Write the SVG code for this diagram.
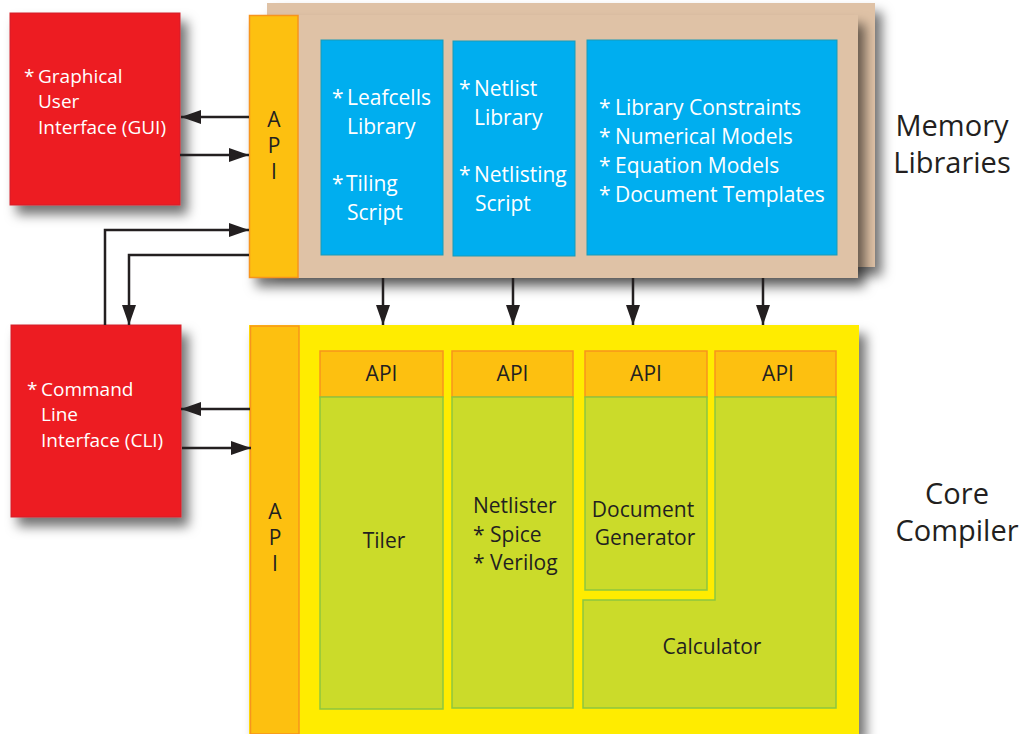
<svg xmlns="http://www.w3.org/2000/svg" width="1024" height="734" viewBox="0 0 1024 734">
<style>
.red{fill:#ED1C24;stroke:#D2232A;stroke-width:1}
.tan{fill:#DFC2A6}
.api{fill:#FDC010;stroke:#F7941D;stroke-width:1.5}
.blue{fill:#00AEEF;stroke:#1B9AB5;stroke-width:1}
.yel{fill:#FFEC00}
.grn{fill:#CBDB2A;stroke:#8DC63F;stroke-width:1.5}
.wt{font-family:"Open Sans","Liberation Sans",sans-serif;fill:#fff}
.dk{font-family:"Open Sans","Liberation Sans",sans-serif;fill:#231F20}
.c{text-anchor:middle}
.vt{writing-mode:vertical-rl;text-orientation:upright;letter-spacing:-2px}
.ln{fill:none;stroke:#231F20;stroke-width:2.5}
</style>
<defs>
<filter id="sh" x="-20%" y="-20%" width="150%" height="150%">
<feDropShadow dx="7" dy="9" stdDeviation="6" flood-color="#000" flood-opacity="0.55"/>
</filter>
<marker id="ah" viewBox="0 0 20 14" refX="20" refY="7" markerWidth="20" markerHeight="14" markerUnits="userSpaceOnUse" orient="auto">
<path d="M0,0 L20,7 L0,14 Z" fill="#231F20"/>
</marker>
</defs>
<rect width="1024" height="734" fill="#fff"/>

<g id="gui">
<rect class="red" x="10" y="13" width="170" height="192" filter="url(#sh)"/>
<text class="wt" font-size="19"><tspan x="24" y="83">*</tspan><tspan x="38" y="83">Graphical</tspan><tspan x="38" y="108">User</tspan><tspan x="38" y="134">Interface (GUI)</tspan></text>
</g>

<g id="cli">
<rect class="red" x="11" y="325" width="170" height="192" filter="url(#sh)"/>
<text class="wt" font-size="19"><tspan x="27" y="396">*</tspan><tspan x="41" y="396">Command</tspan><tspan x="41" y="421">Line</tspan><tspan x="41" y="447">Interface (CLI)</tspan></text>
</g>

<g id="memory">
<rect class="tan" x="267" y="3" width="608" height="264" filter="url(#sh)"/>
<rect class="tan" x="249" y="15" width="609" height="263" filter="url(#sh)"/>
<rect class="api" x="249.5" y="15.5" width="48.5" height="262"/>
<text class="dk vt" font-size="21" x="274" y="105">API</text>
<rect class="blue" x="321" y="40" width="122" height="215"/>
<text class="wt" font-size="21"><tspan x="332" y="105">*</tspan><tspan x="347" y="105">Leafcells</tspan><tspan x="347" y="134">Library</tspan><tspan x="332" y="191">*</tspan><tspan x="346" y="191">Tiling</tspan><tspan x="347" y="220">Script</tspan></text>
<rect class="blue" x="453" y="41" width="122" height="215"/>
<text class="wt" font-size="21"><tspan x="459" y="96">*</tspan><tspan x="474" y="96">Netlist</tspan><tspan x="474" y="125">Library</tspan><tspan x="459" y="182">*</tspan><tspan x="474" y="182">Netlisting</tspan><tspan x="475" y="211">Script</tspan></text>
<rect class="blue" x="587" y="40" width="250" height="215"/>
<text class="wt" font-size="21"><tspan x="599" y="115">*</tspan><tspan x="615" y="115">Library Constraints</tspan><tspan x="599" y="144">*</tspan><tspan x="615" y="144">Numerical Models</tspan><tspan x="599" y="173">*</tspan><tspan x="615" y="173">Equation Models</tspan><tspan x="599" y="202">*</tspan><tspan x="615" y="202">Document Templates</tspan></text>
</g>
<text id="memlabel" class="dk c" font-size="29"><tspan x="952" y="136">Memory</tspan><tspan x="952" y="173">Libraries</tspan></text>

<g id="core">
<rect class="yel" x="249" y="325" width="610" height="409" filter="url(#sh)"/>
<rect class="api" x="250.5" y="326" width="48.5" height="408"/>
<text class="dk vt" font-size="21" x="275" y="497">API</text>
<g id="tiler">
<rect class="api" x="320" y="351" width="123" height="46"/>
<rect class="grn" x="320" y="397" width="123" height="312"/>
<text class="dk c" font-size="21" x="381.5" y="381">API</text>
<text class="dk c" font-size="21" x="384" y="548">Tiler</text>
</g>
<g id="netlister">
<rect class="api" x="452" y="351" width="121" height="46"/>
<rect class="grn" x="452" y="397" width="121" height="311"/>
<text class="dk c" font-size="21" x="512.5" y="381">API</text>
<text class="dk" font-size="21"><tspan x="473" y="513">Netlister</tspan><tspan x="473" y="542">* Spice</tspan><tspan x="473" y="570">* Verilog</tspan></text>
</g>
<g id="docgen">
<rect class="api" x="585" y="351" width="122" height="46"/>
<rect class="grn" x="585" y="397" width="122" height="193"/>
<text class="dk c" font-size="21" x="646" y="381">API</text>
<text class="dk c" font-size="21"><tspan x="643" y="517">Document</tspan><tspan x="645" y="545">Generator</tspan></text>
</g>
<g id="calculator">
<rect class="api" x="715" y="351" width="121" height="46"/>
<path class="grn" d="M715,397 H836 V708 H583 V600 H715 Z"/>
<text class="dk c" font-size="21" x="778" y="381">API</text>
<text class="dk c" font-size="21" x="712" y="654">Calculator</text>
</g>
</g>
<text id="corelabel" class="dk c" font-size="29"><tspan x="957" y="504">Core</tspan><tspan x="957" y="541">Compiler</tspan></text>

<g id="connectors">
<path class="ln" d="M249,117 H181" marker-end="url(#ah)"/>
<path class="ln" d="M180,155 H249" marker-end="url(#ah)"/>
<path class="ln" d="M105,325 V230 H249" marker-end="url(#ah)"/>
<path class="ln" d="M249,255 H129 V325" marker-end="url(#ah)"/>
<path class="ln" d="M250,409 H181" marker-end="url(#ah)"/>
<path class="ln" d="M182,448 H251" marker-end="url(#ah)"/>
<path class="ln" d="M383,278 V325" marker-end="url(#ah)"/>
<path class="ln" d="M513,278 V325" marker-end="url(#ah)"/>
<path class="ln" d="M633,278 V325" marker-end="url(#ah)"/>
<path class="ln" d="M763,278 V325" marker-end="url(#ah)"/>
</g>
</svg>
